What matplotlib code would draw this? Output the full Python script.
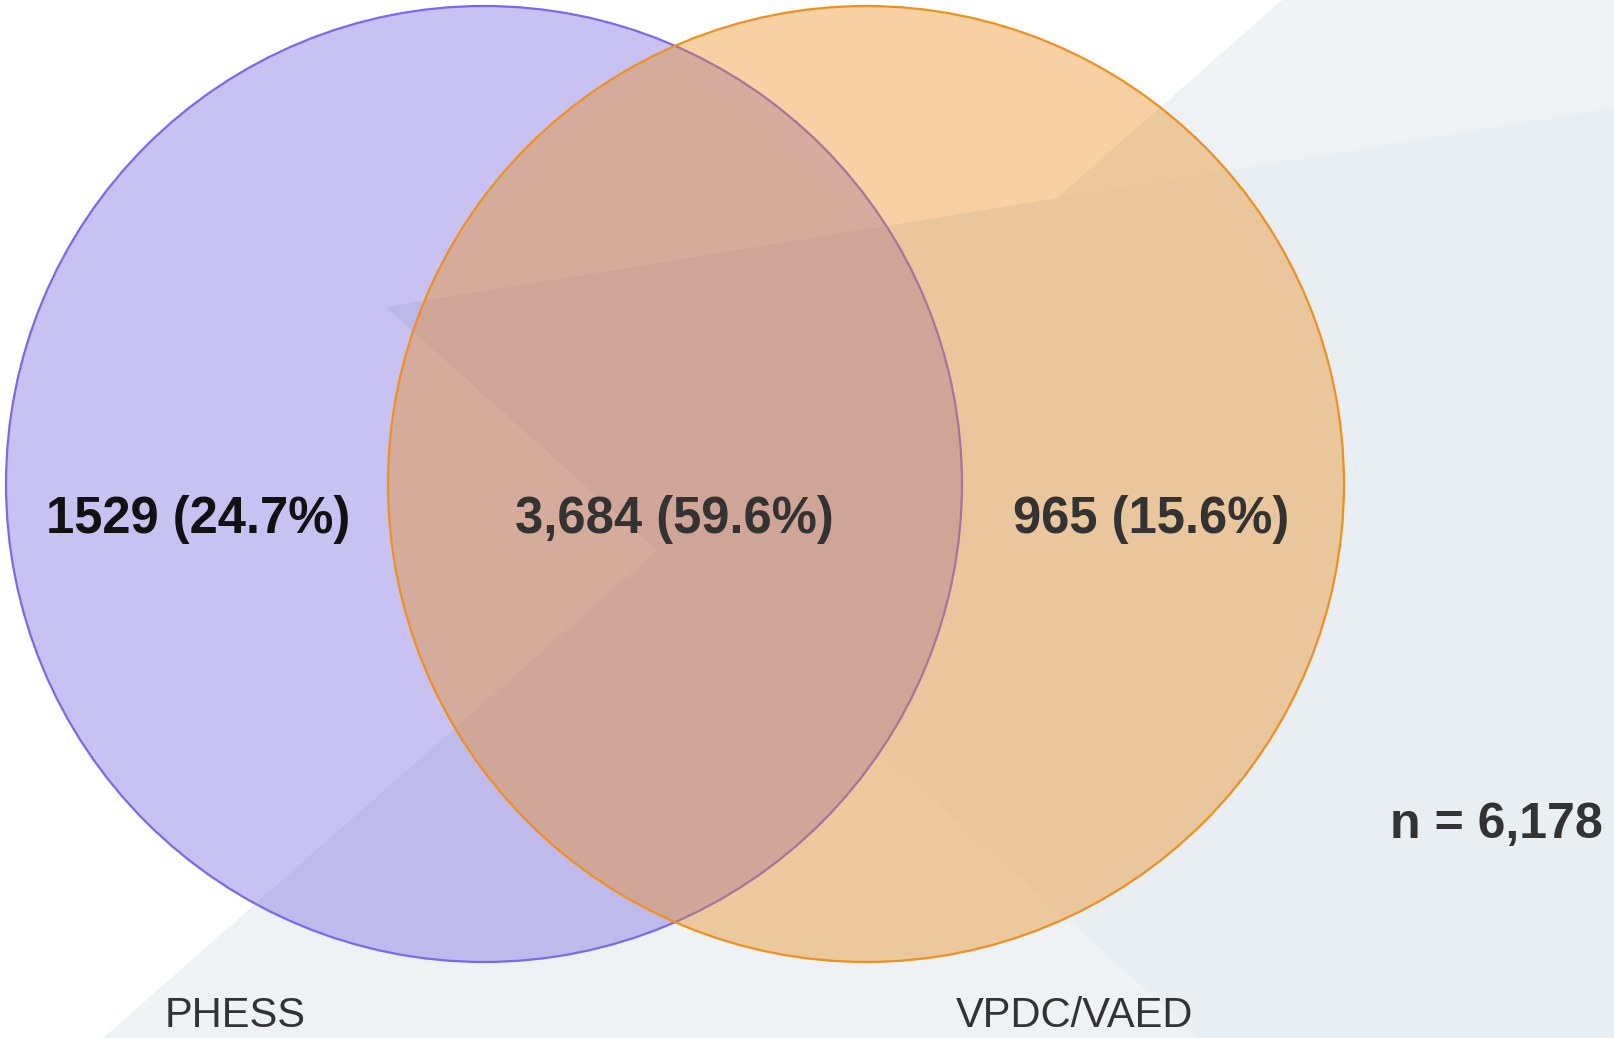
import matplotlib.pyplot as plt
from matplotlib.patches import Circle, Polygon

# --- Data ---
set_names = ['PHESS', 'VPDC/VAED']
region_counts = [1529, 3684, 965]          # PHESS only, both, VPDC/VAED only
region_fmt = ['{:d}', '{:,d}', '{:,d}']    # as printed in the source
total = sum(region_counts)

# --- Layout (pixel space, y down) ---
W, H = 1614, 1038
circle_xy = [(484, 484), (866, 484)]
radius = 478
region_xy = [(198, 519), (674, 519), (1151, 519)]
name_xy = [(235, 1016), (1075, 1016)]
total_xy = (1603, 825)

fills = ['#7667df', '#eb8a1b']
edges = ['#7b68ee', '#f0901e']
alpha = 0.4

fig = plt.figure(figsize=(W / 100, H / 100), dpi=100)
ax = fig.add_axes([0, 0, 1, 1])
ax.set_xlim(0, W)
ax.set_ylim(H, 0)
ax.axis('off')

# --- Decorative background ---
ax.add_patch(Polygon([(1282, 0), (W, 0), (W, H), (103, H)],
                     closed=True, facecolor='#eef2f5', edgecolor='none', zorder=0))
ax.add_patch(Polygon([(386, 307), (W, 108), (W, H), (1200, H)],
                     closed=True, facecolor='#e9eef2', edgecolor='none', zorder=0))

# --- Circles: each outline sits under the next set's fill ---
for i, ((cx, cy), fc, ec) in enumerate(zip(circle_xy, fills, edges)):
    z = 2 + 2 * i
    ax.add_patch(Circle((cx, cy), radius, facecolor=fc, alpha=alpha,
                        edgecolor='none', zorder=z))
    ax.add_patch(Circle((cx, cy), radius, facecolor='none', edgecolor=ec,
                        linewidth=1.6, zorder=z + 1))

# --- Region labels ---
text_colors = ['#111111', '#333333', '#333333']
for (x, y), c, fmt, col in zip(region_xy, region_counts, region_fmt, text_colors):
    ax.text(x, y, f"{fmt.format(c)} ({c / total * 100:.1f}%)",
            ha='center', va='center', fontsize=36.5, fontweight='bold',
            family='Liberation Sans', color=col, zorder=10)

for (x, y), name in zip(name_xy, set_names):
    ax.text(x, y, name, ha='center', va='center', fontsize=30,
            family='Liberation Sans', color='#333333', zorder=10)

ax.text(total_xy[0], total_xy[1], f"n = {total:,}", ha='right', va='center',
        fontsize=36, fontweight='bold', family='Liberation Sans',
        color='#333333', zorder=10)

plt.savefig('out.png', dpi=100)
